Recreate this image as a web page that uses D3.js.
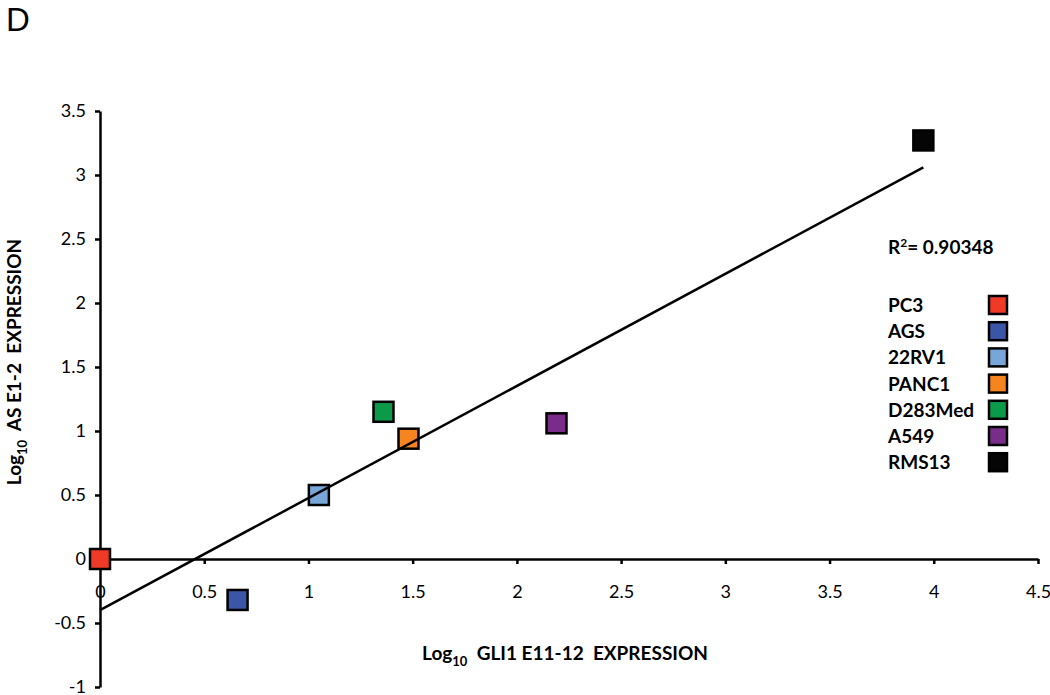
<!DOCTYPE html>
<html>
<head>
<meta charset="utf-8">
<script src="https://cdn.jsdelivr.net/npm/d3@7"></script>
<style>
  body { margin: 0; background: #fff; }
  text { font-family: Lato, "Open Sans", sans-serif; }
</style>
</head>
<body>
<script>
var cellLines = ["PC3", "AGS", "22RV1", "PANC1", "D283Med", "A549", "RMS13"];
var gliExpr = [0, 0.66, 1.05, 1.48, 1.36, 2.19, 3.95];
var asExpr = [0, -0.32, 0.5, 0.94, 1.15, 1.06, 3.27];
var colors = ["#ee3a26", "#3b56a6", "#78a6d9", "#f6841f", "#0b9a4a", "#7a2c8b", "#050505"];
var xTicks = [0, 0.5, 1, 1.5, 2, 2.5, 3, 3.5, 4, 4.5];
var yTicks = [-1, -0.5, 0, 0.5, 1, 1.5, 2, 2.5, 3, 3.5];
var trendSlope = 0.876, trendIntercept = -0.40, trendEnd = 3.95;
var rSquared = "0.90348";

var width = 1050, height = 695;

var svg = d3.select("body").append("svg")
  .attr("width", width)
  .attr("height", height);

var x = d3.scaleLinear().domain([0, 4.5]).range([100, 1038]);
var y = d3.scaleLinear().domain([-1, 3.5]).range([687, 111]);

// plain hyphen for negatives, like the original
var fmt = function(d) { return String(d); };

// panel letter
svg.append("text").text("D")
  .attr("x", 6).attr("y", 31)
  .style("font-family", "'Liberation Sans', Arial, sans-serif")
  .style("font-size", "33px");

// x axis drawn through y = 0
var xAxis = d3.axisBottom(x).tickValues(xTicks).tickSize(5).tickFormat(fmt).tickSizeOuter(0);
var gx = svg.append("g")
  .attr("transform", "translate(0," + y(0) + ")")
  .call(xAxis);
gx.select(".domain").attr("stroke-width", 2.5);
gx.selectAll(".tick line").attr("stroke-width", 2.5);
gx.selectAll(".tick text").attr("dy", 0).attr("y", 39)
  .style("font-size", "18px").attr("fill", "#000");

var yAxis = d3.axisLeft(y).tickValues(yTicks).tickSize(5).tickFormat(fmt).tickSizeOuter(0);
var gy = svg.append("g")
  .attr("transform", "translate(" + x(0) + ",0)")
  .call(yAxis);
gy.select(".domain").attr("stroke-width", 2.5);
gy.selectAll(".tick line").attr("stroke-width", 2.5);
gy.selectAll(".tick text").attr("x", -14)
  .style("font-size", "18px").attr("fill", "#000");

// axis titles
var xt = svg.append("text")
  .attr("x", 565).attr("y", 660)
  .attr("text-anchor", "middle")
  .style("font-size", "19px").style("font-weight", "bold");
xt.append("tspan").text("Log");
xt.append("tspan").text("10").attr("dy", 6).style("font-size", "13px");
xt.append("tspan").text("\u00a0\u00a0GLI1 E11-12\u00a0\u00a0EXPRESSION").attr("dy", -6);

var yt = svg.append("text")
  .attr("transform", "translate(21,362) rotate(-90)")
  .attr("text-anchor", "middle")
  .style("font-size", "19px").style("font-weight", "bold");
yt.append("tspan").text("Log");
yt.append("tspan").text("10").attr("dy", 6).style("font-size", "13px");
yt.append("tspan").text("\u00a0\u00a0AS E1-2\u00a0\u00a0EXPRESSION").attr("dy", -6);

// points
var pts = cellLines.map(function(name, i) {
  return { name: name, gx: gliExpr[i], as: asExpr[i], color: colors[i] };
});

var size = 20;
svg.append("g").selectAll("rect").data(pts).enter().append("rect")
  .attr("x", function(d) { return x(d.gx) - size / 2; })
  .attr("y", function(d) { return y(d.as) - size / 2; })
  .attr("width", size).attr("height", size)
  .attr("fill", function(d) { return d.color; })
  .attr("stroke", "#000")
  .attr("stroke-width", 2.5);

// linear trendline, on top of markers
svg.append("line")
  .attr("x1", x(0)).attr("y1", y(trendIntercept))
  .attr("x2", x(trendEnd)).attr("y2", y(trendIntercept + trendSlope * trendEnd))
  .attr("stroke", "#000").attr("stroke-width", 2.5);

// R squared
var rt = svg.append("text")
  .attr("x", 888).attr("y", 254)
  .style("font-size", "19px").style("font-weight", "bold");
rt.append("tspan").text("R");
rt.append("tspan").text("2").attr("dy", -7).style("font-size", "12px");
rt.append("tspan").text("= " + rSquared).attr("dy", 7);

// legend
var leg = svg.append("g").selectAll("g").data(pts).enter().append("g")
  .attr("transform", function(d, i) { return "translate(0," + (305 + i * 26.2) + ")"; });
leg.append("text").text(function(d) { return d.name; })
  .attr("x", 888).attr("y", 7)
  .style("font-size", "19px").style("font-weight", "bold");
leg.append("rect")
  .attr("x", 989).attr("y", -9)
  .attr("width", 18).attr("height", 18)
  .attr("fill", function(d) { return d.color; })
  .attr("stroke", "#000").attr("stroke-width", 2.5);
</script>
</body>
</html>
